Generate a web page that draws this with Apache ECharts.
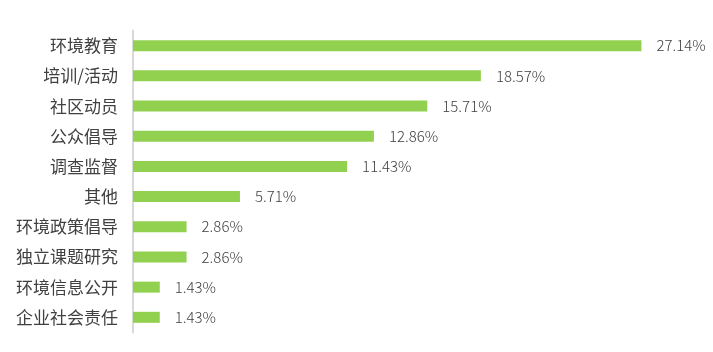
<!DOCTYPE html>
<html>
<head>
<meta charset="utf-8">
<script src="https://cdn.jsdelivr.net/npm/echarts@6/dist/echarts.min.js"></script>
<style>html,body{margin:0;padding:0;background:#fff}#c{width:713px;height:352px}</style>
</head>
<body>
<div id="c"></div>
<script>
const categories = ['环境教育','培训/活动','社区动员','公众倡导','调查监督','其他','环境政策倡导','独立课题研究','环境信息公开','企业社会责任'];
const values = [27.14, 18.57, 15.71, 12.86, 11.43, 5.71, 2.86, 2.86, 1.43, 1.43];

const chart = echarts.init(document.getElementById('c'));
chart.setOption({
  animation: false,
  grid: {left: 133, right: 18, top: 30.6, bottom: 19.6, containLabel: false},
  xAxis: {
    type: 'value', min: 0, max: 30,
    show: false
  },
  yAxis: {
    type: 'category',
    inverse: true,
    data: categories,
    axisLine: {show: true, lineStyle: {color: '#d9d9d9', width: 2}},
    axisTick: {show: false},
    axisLabel: {color: '#404040', fontSize: 17, margin: 15, fontFamily: 'Noto Sans CJK SC'}
  },
  series: [{
    type: 'bar',
    data: values,
    barWidth: 11,
    itemStyle: {color: '#92D050'},
    label: {
      show: true, position: 'right', distance: 15,
      formatter: p => p.value.toFixed(2) + '%',
      color: '#404040', fontSize: 15, fontFamily: 'Noto Sans CJK SC', fontWeight: 300
    }
  }]
});
</script>
</body>
</html>
